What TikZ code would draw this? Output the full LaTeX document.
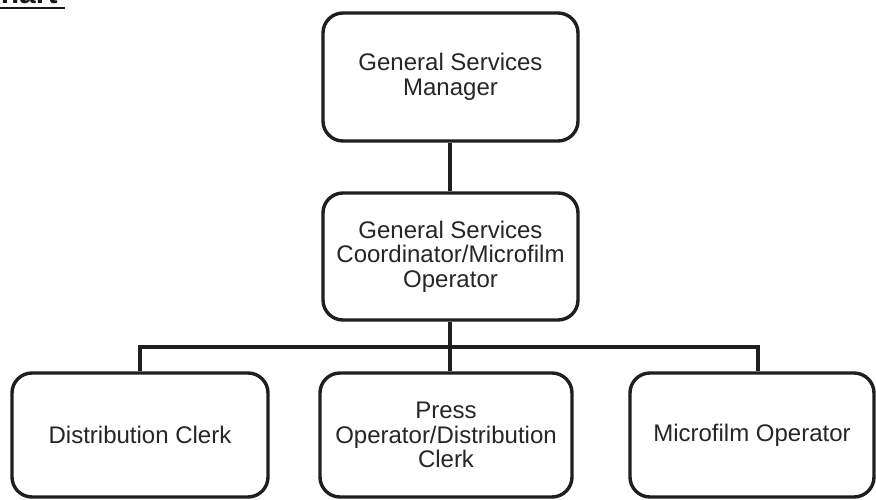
\documentclass[tikz,border=0pt]{standalone}
\usepackage{fontspec}
\setmainfont{Liberation Sans}
\begin{document}
\begin{tikzpicture}[x=1pt,y=-1pt,
  orgbox/.style={draw=black!88, line width=3.4pt, rounded corners=20pt,
    fill=white, inner sep=0pt, align=center, text=black!85,
    font=\fontsize{24}{24.5}\selectfont},
  link/.style={draw=black!88, line width=3.4pt}]
  \useasboundingbox (0,0) rectangle (876,500);
  \fill[white] (0,0) rectangle (876,500);

  % heading, cut by the top edge
  \begin{scope}
    \clip (0,0) rectangle (876,500);
    \node[anchor=base west, inner sep=0pt, font=\bfseries\fontsize{30}{30}\selectfont,
          text=black!90] (title) at (-21,4) {Chart};
  \end{scope}
  \draw[black!90, line width=2.4pt] (0,8) -- (65,8);

  % boxes
  \node[orgbox, minimum width=255pt, minimum height=128pt] (gsm) at (450.5,77)
    {General Services\\Manager};
  \node[orgbox, minimum width=255pt, minimum height=127pt] (gsc) at (450.5,256.5)
    {General Services\\Coordinator/Microfilm\\Operator};
  \node[orgbox, minimum width=256pt, minimum height=124pt] (dc) at (140,435)
    {Distribution Clerk};
  \node[orgbox, minimum width=252pt, minimum height=124pt] (pod) at (446,435)
    {Press\\Operator/Distribution\\Clerk};
  \node[orgbox, minimum width=244pt, minimum height=124pt] (mo) at (752,435)
    {Microfilm Operator};

  % connectors
  \coordinate (bar) at (450,347);
  \coordinate (barL) at (140,347);
  \coordinate (barR) at (758,347);
  \draw[link] (gsm.south -| bar) -- (gsc.north -| bar);
  \draw[link] (gsc.south -| bar) -- (bar);
  \draw[link] (dc.north) |- (barL) -- (barR) -- (barR |- mo.north);
  \draw[link] (bar) -- (bar |- pod.north);
\end{tikzpicture}
\end{document}
